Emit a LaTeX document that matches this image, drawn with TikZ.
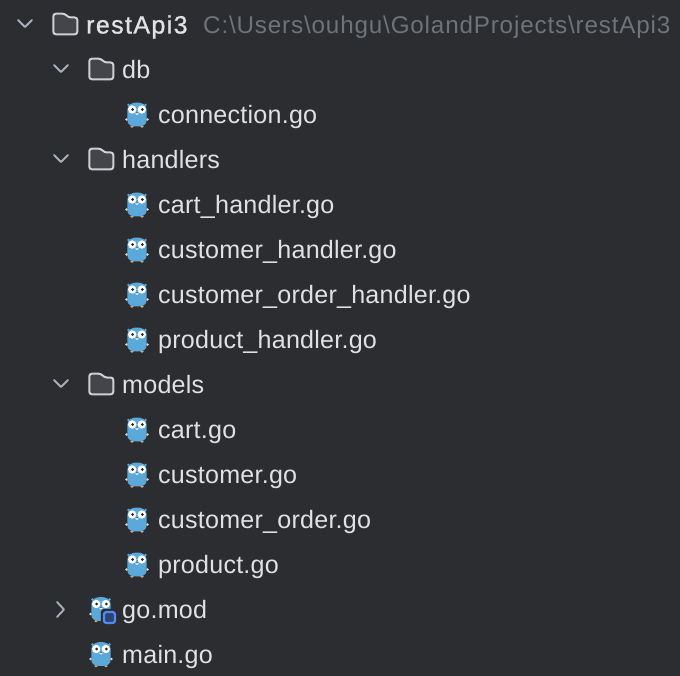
\documentclass[tikz,border=0pt]{standalone}
\usepackage{fontspec}
\setmainfont[LetterSpace=0.9]{Liberation Sans}
\newfontfamily\rootfont[FakeBold=1,LetterSpace=5.5]{Liberation Sans}
\newfontfamily\pathfont[LetterSpace=3.5]{Liberation Sans}
\definecolor{bg}{HTML}{2B2D30}
\definecolor{txt}{HTML}{DFE1E5}
\definecolor{pathgrey}{HTML}{6F737A}
\definecolor{chev}{HTML}{A8ADBD}
\definecolor{foldfill}{HTML}{43454A}
\definecolor{foldline}{HTML}{CED0D6}
\definecolor{gobody}{HTML}{5AA9DA}
\definecolor{badge}{HTML}{548AF7}
\definecolor{badgefill}{HTML}{2E436E}
\tikzset{
  x=1pt,y=-1pt,
  label/.style={anchor=base west,inner sep=0pt,text=txt,font=\fontsize{25.1}{28}\selectfont},
  rootlabel/.style={label,font=\rootfont\fontsize{25}{28}\selectfont},
  pathlabel/.style={label,text=pathgrey,font=\pathfont\fontsize{24.2}{28}\selectfont},
  chevron/.style={draw=chev,line width=1.9pt,line cap=round,line join=round},
  foldericon/.pic={
    \draw[draw=foldline,fill=foldfill,line width=2pt,line join=round,rounded corners=2.5pt]
      (-11.7,0) -- (-11.7,-11.3) -- (0,-11.3) -- (3.5,-7.5) -- (12.3,-7.5) -- (12.3,9.3) -- (-11.7,9.3) -- cycle;
  },
  gopher/.pic={
    \fill[fill=white!70!brown] (-10.3,4.5) ellipse (1.6pt and 1.3pt) (10.3,4.5) ellipse (1.6pt and 1.3pt);
    \fill[fill=brown!70!white] (-5,11.6) ellipse (1.8pt and 1.2pt) (5,11.6) ellipse (1.8pt and 1.2pt);
    \fill[gobody] (-9.7,-5) .. controls (-9.7,-10.5) and (-5,-12.5) .. (0,-12.5)
      .. controls (5,-12.5) and (9.7,-10.5) .. (9.7,-5)
      -- (9.7,5) .. controls (9.7,10) and (6,11.5) .. (0,11.5)
      .. controls (-6,11.5) and (-9.7,10) .. (-9.7,5) -- cycle;
    \fill[gobody] (-8.5,-10) circle (1.4pt) (8.5,-10) circle (1.4pt);
    \fill[white] (-4.8,-5.5) circle (4.2pt) (4.8,-5.5) circle (4.2pt);
    \fill[black!85] (-4.3,-5.5) circle (1.5pt) (5.3,-5.5) circle (1.5pt);
    \fill[white!85!brown] (0,-1.2) ellipse (1.8pt and 1.3pt);
    \fill[black!80] (0,-2.2) ellipse (.9pt and .5pt);
  },
}
\newcommand{\gofile}[3]{%
  \pic at (137,#2) {gopher};
  \node[label] (#1) at (158,#2+8.5) {#3};
}
\newcommand{\subfolder}[3]{%
  \draw[chevron] (54,#2-5) -- (61,#2+2) -- (68,#2-5);
  \pic at (101,#2) {foldericon};
  \node[label] (#1) at (122,#2+8.5) {#3};
}
\begin{document}
\begin{tikzpicture}
\useasboundingbox (0,0) rectangle (680,676);
\fill[bg] (0,0) rectangle (680,676);
% root
\draw[chevron] (18,20) -- (25,27) -- (32,20);
\pic at (65,25) {foldericon};
\node[rootlabel] (root) at (86,33.5) {restApi3};
\node[pathlabel] (rootpath) at (203,33.5) {C:\textbackslash Users\textbackslash ouhgu\textbackslash GolandProjects\textbackslash restApi3};
% db
\subfolder{db}{70}{db}
\gofile{conn}{115}{connection.go}
% handlers
\subfolder{handlers}{160}{handlers}
\gofile{carth}{205}{cart\_handler.go}
\gofile{custh}{250}{customer\_handler.go}
\gofile{custoh}{295}{customer\_order\_handler.go}
\gofile{prodh}{340}{product\_handler.go}
% models
\subfolder{models}{385}{models}
\gofile{cart}{430}{cart.go}
\gofile{cust}{475}{customer.go}
\gofile{custo}{520}{customer\_order.go}
\gofile{prod}{565}{product.go}
% go.mod
\draw[chevron] (57,602) -- (64,609.5) -- (57,617);
\pic at (101,609.5) {gopher};
\draw[draw=bg,line width=1.5pt,fill=bg,rounded corners=3pt] (101.5,609.5) rectangle (117.5,624.5);
\draw[draw=badge,fill=badgefill,line width=2.2pt,rounded corners=2.5pt] (104,612) rectangle (115,623);
\node[label] (gomod) at (122,618.5) {go.mod};
% main.go
\pic at (101,654.5) {gopher};
\node[label] (maingo) at (122,663.5) {main.go};
\end{tikzpicture}
\end{document}
